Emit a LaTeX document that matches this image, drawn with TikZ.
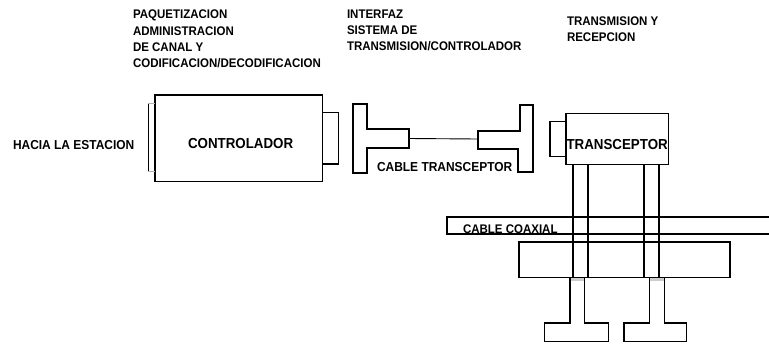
\documentclass[tikz,border=0pt]{standalone}
\usepackage{fontspec}
\newfontfamily\lab{Liberation Sans Bold}[FakeStretch=0.92]
\begin{document}
\begin{tikzpicture}[x=1bp,y=-1bp,
  ln/.style={line width=1.2bp, line join=miter},
  boxn/.style={draw, line width=1.2bp, inner sep=0pt, outer sep=0pt, anchor=north west},
  txt/.style={inner sep=0pt, outer sep=0pt, font=\lab\fontsize{#1}{16.3bp}\selectfont},
  txt/.default=12.5bp]
\useasboundingbox (0,0) rectangle (769,344);
% top descriptive labels
\node[txt, anchor=north west, align=left] (d1) at (133,10) {PAQUETIZACION\\ADMINISTRACION\\DE CANAL Y\\CODIFICACION/DECODIFICACION};
\node[txt, anchor=north west, align=left] (d2) at (347,9.5) {INTERFAZ\\SISTEMA DE\\TRANSMISION/CONTROLADOR};
\node[txt, anchor=north west, align=left] (d3) at (567,16.5) {TRANSMISION Y\\RECEPCION};
% controller
\node[boxn, minimum width=167.7bp, minimum height=86.7bp] (ctrl) at (155,95) {};
\node[boxn, minimum width=15.6bp, minimum height=51.3bp] (ctab) at (322.7,112.7) {};
\draw[ln] (148.3,103.3) -- (148.3,171.7);
\draw[ln, gray!60] (148.3,103.3) -- (155,103.3) (148.3,171.7) -- (155,171.7);
\node[txt=14.5bp, anchor=base west] (lctrl) at (188,148) {CONTROLADOR};
\node[txt=13bp, anchor=base west] (lhacia) at (13,149) {HACIA LA ESTACION};
% interface T connectors and transceiver cable
\draw[ln] (353,104) -- (367,104) -- (367,129) -- (409,129) -- (409,148) -- (367,148) -- (367,173) -- (353,173) -- cycle;
\draw[ln] (533,105) -- (520,105) -- (520,131) -- (478,131) -- (478,149) -- (518,149) -- (518,172) -- (533,172) -- cycle;
\coordinate (cL) at (409,138.5);
\coordinate (cR) at (478,139);
\draw[line width=0.9bp] (cL) -- (cR);
\node[txt=13bp, anchor=base west] (lcab) at (377,171.5) {CABLE TRANSCEPTOR};
% transceiver
\node[boxn, minimum width=102.3bp, minimum height=51bp] (trx) at (566,113.3) {};
\node[boxn, minimum width=16bp, minimum height=35bp] (ttab) at (550,121.7) {};
\node[txt=14.5bp, anchor=base west] (ltrx) at (566.5,149.5) {TRANSCEPTOR};
% coaxial cable band
\draw[ln] (772,217) -- (447,217) -- (447,234) -- (772,234);
\node[txt, anchor=base west] (lcoax) at (463,233.3) {CABLE COAXIAL};
% lower rectangle
\node[boxn, minimum width=211bp, minimum height=35.5bp] (low) at (519,242) {};
% vertical lines from transceiver
\foreach \xx in {573,588,644,659} \draw[ln] (\xx,164.3) -- (\xx,277.5);
% bottom T connectors
\fill[gray!40] (570,277.5) rectangle (584.3,280.5);
\fill[gray!40] (649.3,277.5) rectangle (664.3,280.5);
\draw[ln] (570,277.5) -- (570,323) -- (544.3,323) -- (544.3,341.7) -- (608.3,341.7) -- (608.3,323) -- (584.3,323) -- (584.3,277.5);
\draw[ln] (649.3,277.5) -- (649.3,323) -- (624,323) -- (624,341.7) -- (686.7,341.7) -- (686.7,323) -- (664.3,323) -- (664.3,277.5);
\end{tikzpicture}
\end{document}
